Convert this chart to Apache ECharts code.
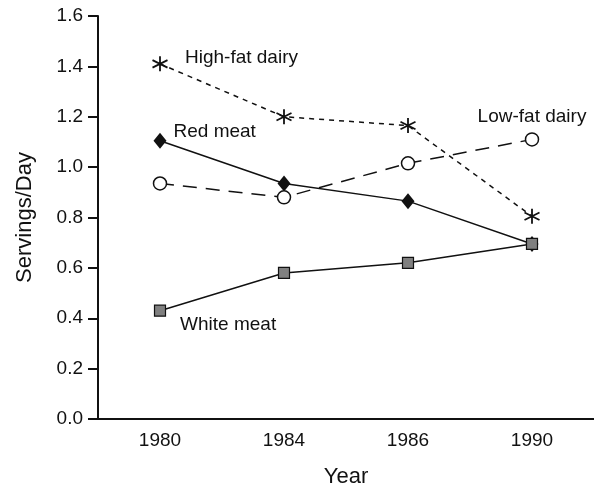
<!DOCTYPE html>
<html><head><meta charset="utf-8">
<script src="https://cdn.jsdelivr.net/npm/echarts@6/dist/echarts.min.js"></script>
<style>html,body{margin:0;padding:0;background:#fff}#c{width:594px;height:493px}</style>
</head><body><div id="c"></div>
<script>
const years = ['1980', '1984', '1986', '1990'];
const highFatDairy = [1.41, 1.20, 1.165, 0.805];
const redMeat = [1.105, 0.935, 0.865, 0.695];
const lowFatDairy = [0.935, 0.88, 1.015, 1.11];
const whiteMeat = [0.43, 0.58, 0.62, 0.695];
const yTicks = [0, 0.2, 0.4, 0.6, 0.8, 1.0, 1.2, 1.4, 1.6];

const FONT = 'Liberation Sans, Arial, sans-serif';
const star = 'path://M0,-1L0,1M-0.866,-0.5L0.866,0.5M-0.866,0.5L0.866,-0.5';

function withLabel(arr, idx, text, pos, offset) {
  return arr.map((v, i) => i === idx ? {
    value: v,
    label: { show: true, formatter: text, position: pos, offset: offset,
      color: '#111', fontSize: 19, fontFamily: FONT }
  } : v);
}

const chart = echarts.init(document.getElementById('c'));
chart.setOption({
  animation: false,
  grid: { left: 98, right: 0, top: 16, bottom: 69 },
  xAxis: {
    type: 'category', data: years, boundaryGap: true,
    name: 'Year', nameLocation: 'middle', nameGap: 47,
    nameTextStyle: { fontSize: 22, fontFamily: FONT, color: '#111' },
    axisLine: { lineStyle: { color: '#111', width: 2 } },
    axisTick: { show: false },
    axisLabel: { fontSize: 19, fontFamily: FONT, color: '#111', margin: 12 }
  },
  yAxis: {
    type: 'value', min: 0, max: 1.6, interval: 0.2,
    name: 'Servings/Day', nameLocation: 'middle', nameGap: 62, nameRotate: 90,
    nameTextStyle: { fontSize: 22, fontFamily: FONT, color: '#111' },
    axisLine: { show: true, lineStyle: { color: '#111', width: 2 } },
    axisTick: { show: true, length: 10, lineStyle: { color: '#111', width: 2 } },
    splitLine: { show: false },
    axisLabel: { fontSize: 19, fontFamily: FONT, color: '#111', margin: 15,
      formatter: v => yTicks.includes(+v.toFixed(1)) ? v.toFixed(1) : '' }
  },
  series: [
    {
      name: 'White meat', type: 'line', data: withLabel(whiteMeat, 0, 'White meat', 'right', [9, 14]),
      symbol: 'rect', symbolSize: 11, z: 5,
      itemStyle: { color: '#808080', borderColor: '#111', borderWidth: 1.2 },
      lineStyle: { color: '#111', width: 1.5 }
    },
    {
      name: 'Red meat', type: 'line', data: withLabel(redMeat, 0, 'Red meat', 'right', [2, -9]),
      symbol: 'diamond', symbolSize: [13, 16], z: 3,
      itemStyle: { color: '#111', borderColor: '#111', borderWidth: 0 },
      lineStyle: { color: '#111', width: 1.5 }
    },
    {
      name: 'Low-fat dairy', type: 'line', data: withLabel(lowFatDairy, 3, 'Low-fat dairy', 'top', [0, -1]),
      symbol: 'circle', symbolSize: 13, z: 4,
      itemStyle: { color: '#fff', borderColor: '#111', borderWidth: 1.5 },
      lineStyle: { color: '#111', width: 1.5, type: [14, 9] }
    },
    {
      name: 'High-fat dairy', type: 'line', data: withLabel(highFatDairy, 0, 'High-fat dairy', 'right', [10, -6]),
      symbol: star, symbolSize: 15, z: 4,
      itemStyle: { color: 'none', borderColor: '#111', borderWidth: 1.8 },
      lineStyle: { color: '#111', width: 1.5, type: [5, 5] }
    }
  ]
});
</script></body></html>
